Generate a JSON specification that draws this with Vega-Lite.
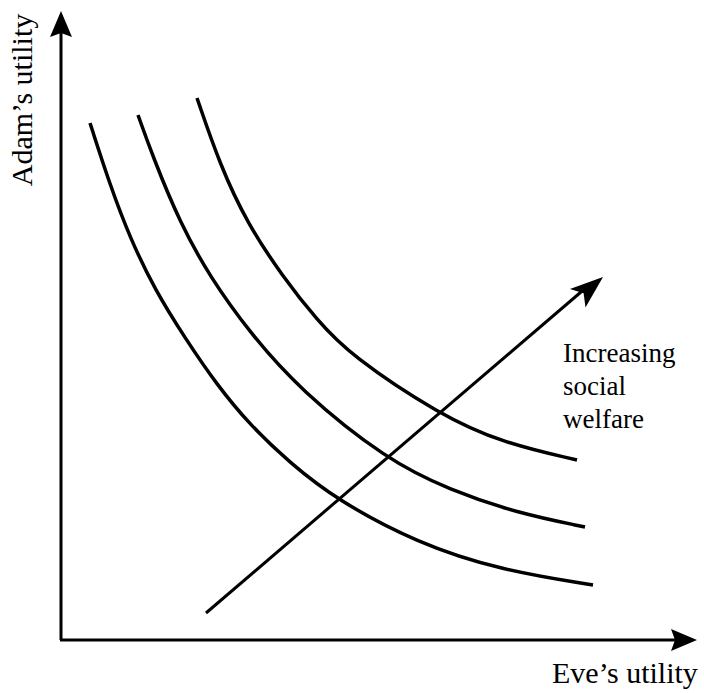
{
  "$schema": "https://vega.github.io/schema/vega-lite/v6.json",
  "width": 640,
  "height": 630,
  "autosize": {"type": "none"},
  "padding": {"left": 60, "top": 10, "right": 4, "bottom": 53},
  "background": "white",
  "config": {"view": {"stroke": null}},
  "datasets": {
    "curves": [
      {"curve": 1, "o": 1, "x": 30, "y": 517}, {"curve": 1, "o": 2, "x": 50, "y": 455}, {"curve": 1, "o": 3, "x": 70, "y": 402}, {"curve": 1, "o": 4, "x": 95, "y": 350}, {"curve": 1, "o": 5, "x": 125, "y": 302}, {"curve": 1, "o": 6, "x": 157, "y": 255}, {"curve": 1, "o": 7, "x": 190, "y": 215}, {"curve": 1, "o": 8, "x": 230, "y": 177}, {"curve": 1, "o": 9, "x": 277, "y": 140}, {"curve": 1, "o": 10, "x": 357, "y": 97}, {"curve": 1, "o": 11, "x": 440, "y": 70}, {"curve": 1, "o": 12, "x": 533, "y": 55},
      {"curve": 2, "o": 1, "x": 78, "y": 525}, {"curve": 2, "o": 2, "x": 93, "y": 483}, {"curve": 2, "o": 3, "x": 120, "y": 417}, {"curve": 2, "o": 4, "x": 150, "y": 363}, {"curve": 2, "o": 5, "x": 190, "y": 307}, {"curve": 2, "o": 6, "x": 240, "y": 250}, {"curve": 2, "o": 7, "x": 327, "y": 180}, {"curve": 2, "o": 8, "x": 390, "y": 150}, {"curve": 2, "o": 9, "x": 457, "y": 127}, {"curve": 2, "o": 10, "x": 525, "y": 113},
      {"curve": 3, "o": 1, "x": 137, "y": 542}, {"curve": 3, "o": 2, "x": 160, "y": 475}, {"curve": 3, "o": 3, "x": 187, "y": 417}, {"curve": 3, "o": 4, "x": 223, "y": 363}, {"curve": 3, "o": 5, "x": 257, "y": 320}, {"curve": 3, "o": 6, "x": 290, "y": 285}, {"curve": 3, "o": 7, "x": 380, "y": 225}, {"curve": 3, "o": 8, "x": 443, "y": 197}, {"curve": 3, "o": 9, "x": 517, "y": 180}
    ],
    "segments": [
      {"name": "yaxis", "x": 1, "y": 0, "x2": 1, "y2": 612},
      {"name": "xaxis", "x": 0, "y": 0, "x2": 618, "y2": 0},
      {"name": "welfare", "x": 146, "y": 27, "x2": 528, "y2": 354}
    ],
    "heads": [
      {"name": "yaxis", "x": 1, "y": 629, "angle": 0},
      {"name": "xaxis", "x": 637, "y": 0, "angle": 90}
    ],
    "diagHead": [
      {"name": "welfare", "x": 543, "y": 363, "angle": 50}
    ],
    "labels": [
      {"text": "Increasing", "x": 503, "y": 278},
      {"text": "social", "x": 503, "y": 245},
      {"text": "welfare", "x": 503, "y": 212}
    ],
    "xlabel": [
      {"text": "Eve’s utility", "x": 492, "y": -43}
    ],
    "ylabel": [
      {"text": "Adam’s utility", "x": -37, "y": 540}
    ]
  },
  "layer": [
    {
      "data": {"name": "segments"},
      "mark": {"type": "rule", "color": "black", "strokeWidth": 3},
      "encoding": {
        "x": {"field": "x", "type": "quantitative", "scale": {"domain": [0, 640]}, "axis": null},
        "y": {"field": "y", "type": "quantitative", "scale": {"domain": [0, 630]}, "axis": null},
        "x2": {"field": "x2"},
        "y2": {"field": "y2"}
      }
    },
    {
      "data": {"name": "curves"},
      "mark": {"type": "line", "color": "black", "strokeWidth": 3.5, "interpolate": "basis", "strokeCap": "butt"},
      "encoding": {
        "x": {"field": "x", "type": "quantitative", "scale": {"domain": [0, 640]}, "axis": null},
        "y": {"field": "y", "type": "quantitative", "scale": {"domain": [0, 630]}, "axis": null},
        "detail": {"field": "curve", "type": "nominal"},
        "order": {"field": "o", "type": "quantitative"}
      }
    },
    {
      "data": {"name": "heads"},
      "mark": {"type": "point", "shape": "M0,0L-1.1,2.6L0,2.2L1.1,2.6Z", "filled": true, "color": "black", "opacity": 1, "size": 400, "strokeWidth": 0},
      "encoding": {
        "x": {"field": "x", "type": "quantitative", "scale": {"domain": [0, 640]}, "axis": null},
        "y": {"field": "y", "type": "quantitative", "scale": {"domain": [0, 630]}, "axis": null},
        "angle": {"field": "angle", "type": "quantitative", "scale": null}
      }
    },
    {
      "data": {"name": "diagHead"},
      "mark": {"type": "point", "shape": "M0,0L-1.1,3L0,2.3L1.1,3Z", "filled": true, "color": "black", "opacity": 1, "size": 484, "strokeWidth": 0},
      "encoding": {
        "x": {"field": "x", "type": "quantitative", "scale": {"domain": [0, 640]}, "axis": null},
        "y": {"field": "y", "type": "quantitative", "scale": {"domain": [0, 630]}, "axis": null},
        "angle": {"field": "angle", "type": "quantitative", "scale": null}
      }
    },
    {
      "data": {"name": "labels"},
      "mark": {"type": "text", "font": "Liberation Serif", "fontSize": 27, "color": "black", "align": "left", "baseline": "alphabetic"},
      "encoding": {
        "x": {"field": "x", "type": "quantitative", "scale": {"domain": [0, 640]}, "axis": null},
        "y": {"field": "y", "type": "quantitative", "scale": {"domain": [0, 630]}, "axis": null},
        "text": {"field": "text", "type": "nominal"}
      }
    },
    {
      "data": {"name": "xlabel"},
      "mark": {"type": "text", "font": "Liberation Serif", "fontSize": 30, "color": "black", "align": "left", "baseline": "alphabetic"},
      "encoding": {
        "x": {"field": "x", "type": "quantitative", "scale": {"domain": [0, 640]}, "axis": null},
        "y": {"field": "y", "type": "quantitative", "scale": {"domain": [0, 630]}, "axis": null},
        "text": {"field": "text", "type": "nominal"}
      }
    },
    {
      "data": {"name": "ylabel"},
      "mark": {"type": "text", "font": "Liberation Serif", "fontSize": 30, "color": "black", "align": "center", "baseline": "middle", "angle": 270},
      "encoding": {
        "x": {"field": "x", "type": "quantitative", "scale": {"domain": [0, 640]}, "axis": null},
        "y": {"field": "y", "type": "quantitative", "scale": {"domain": [0, 630]}, "axis": null},
        "text": {"field": "text", "type": "nominal"}
      }
    }
  ]
}
